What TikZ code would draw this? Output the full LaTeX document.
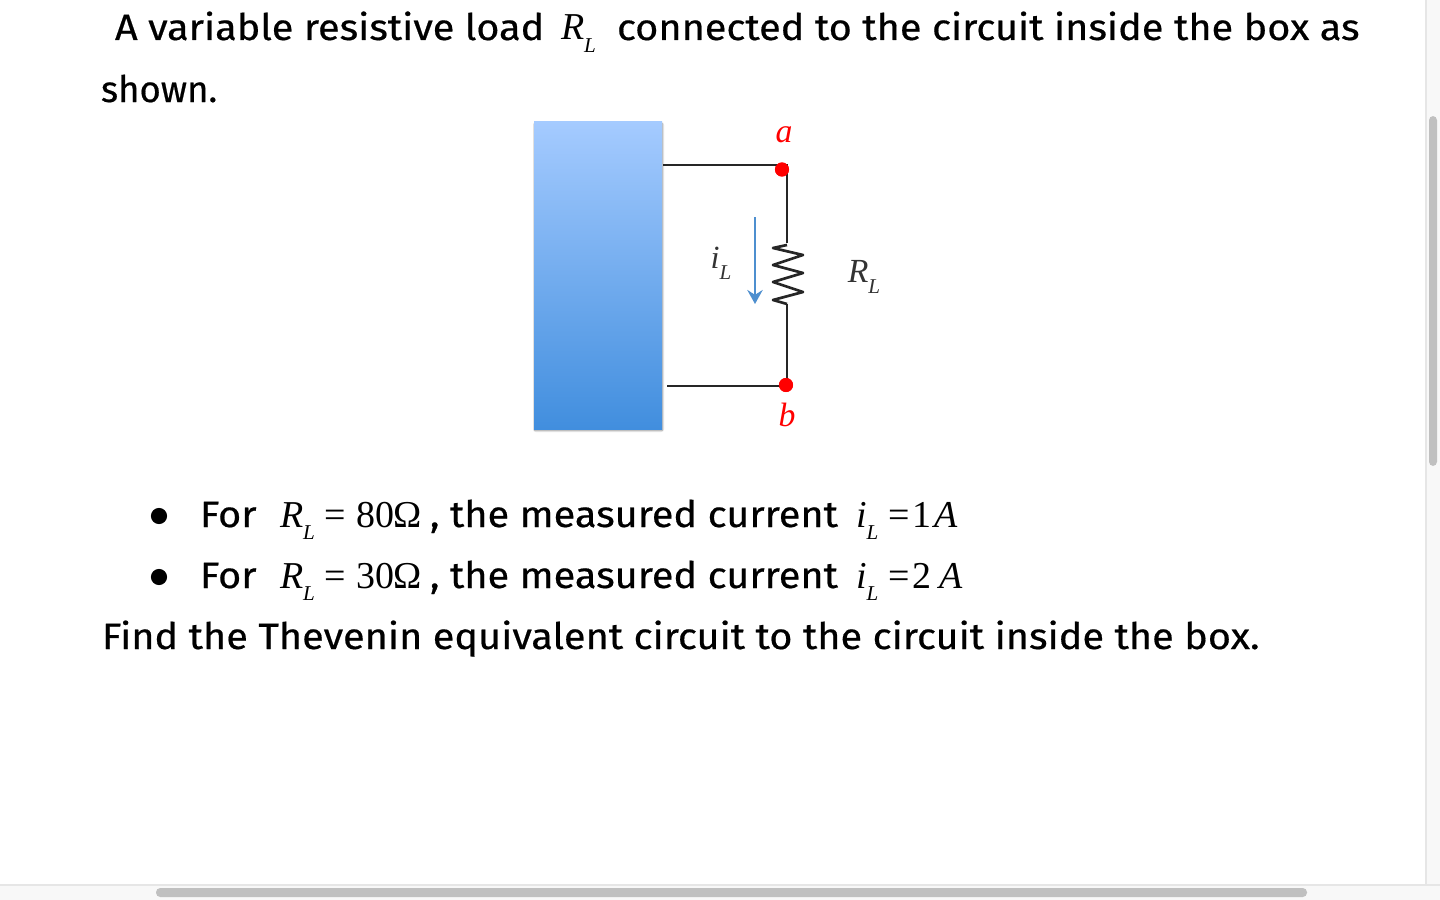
\documentclass[tikz,border=0pt]{standalone}
\usepackage{fontspec}
\setmainfont[FakeStretch=1.085,FakeBold=0.5]{Fira Sans}
\newfontfamily\plainfont[FakeBold=0.5]{Fira Sans}
\newfontfamily\mathserif{Liberation Serif}
\usetikzlibrary{arrows.meta}
\definecolor{boxtop}{HTML}{A5CBFF}
\definecolor{boxbot}{HTML}{418EDE}
\definecolor{arrowblue}{HTML}{4E8FCF}
\definecolor{thumbgray}{HTML}{C0C0C0}
\definecolor{trackgray}{HTML}{F8F8F8}
\definecolor{trackline}{HTML}{E6E6E6}
\newcommand{\subvar}[2]{\textit{#1}\raisebox{-0.33em}{\fontsize{15}{15}\selectfont\textit{#2}}}
\tikzset{
    txt/.style = {anchor=base west,inner sep=0pt,outer sep=0pt,font=\fontsize{26}{26}\selectfont},
    mth/.style = {anchor=base west,inner sep=0pt,outer sep=0pt,font=\mathserif\fontsize{27}{27}\selectfont},
    lbl/.style = {inner sep=0pt,outer sep=0pt,font=\mathserif\fontsize{24}{24}\selectfont\itshape},
    terminal/.style = {circle,fill=red,inner sep=0pt,minimum size=10},
    bullet/.style = {circle,fill=black,inner sep=0pt,minimum size=11.5},
    wire/.style = {line width=1.9pt,black!85},
    thumb/.style = {fill=thumbgray,rounded corners=3pt},
    track/.style = {fill=trackgray,draw=trackline,line width=0.8pt}
}
\begin{document}
\begin{tikzpicture}[x=0.025cm,y=-0.025cm]
  \useasboundingbox[fill=white] (0,0) rectangle (1440,900);

  % scroll bars
  \path[track] (1426,-2) rectangle (1442,885);
  \path[track] (-2,885) rectangle (1442,902);
  \path[thumb] (1429,116) rectangle (1437,466);
  \path[thumb] (156,888) rectangle (1307,897);

  % text
  \node[txt] (l1a) at (115,40) {A variable resistive load};
  \node[mth] (l1b) at (561,40) {\subvar{R}{L}};
  \node[txt] (l1c) at (617,40) {connected to the circuit inside the box as};
  \node[txt,font=\plainfont\fontsize{26}{26}\selectfont] (l2) at (101,102) {shown.};

  \node[bullet] (b1) at (159,516) {};
  \node[txt] (f1) at (200,527) {For};
  \node[mth] (r1) at (280,527) {\subvar{R}{L}\kern7pt=\kern7pt 80\textup{Ω}};
  \node[txt] (m1) at (430,527) {, the measured current};
  \node[mth] (i1) at (856,527) {\subvar{i}{L}\kern7pt=\kern2pt1\kern2pt\textit{A}};

  \node[bullet] (b2) at (159,577) {};
  \node[txt] (f2) at (200,588) {For};
  \node[mth] (r2) at (280,588) {\subvar{R}{L}\kern7pt=\kern7pt 30\textup{Ω}};
  \node[txt] (m2) at (430,588) {, the measured current};
  \node[mth] (i2) at (856,588) {\subvar{i}{L}\kern7pt=\kern2pt2\kern6pt\textit{A}};

  \node[txt] (l5) at (102,649) {Find the Thevenin equivalent circuit to the circuit inside the box.};

  % box
  \fill[black!12,rounded corners=2pt] (533,122) rectangle (664,432);
  \fill[black!25] (534,123) rectangle (663,430.5);
  \node[top color=boxtop,bottom color=boxbot,
        minimum width=128*0.025cm,minimum height=308*0.025cm,inner sep=0pt] (box) at (598,275) {};

  % circuit
  \coordinate (boxa) at (663,165);
  \coordinate (boxb) at (667,386);
  \coordinate (rtop) at (787,243);
  \coordinate (rbot) at (787,304);
  \coordinate (ita) at (755,217);
  \coordinate (itb) at (755,304);
  \node[terminal] (a) at (782,169.5) {};
  \node[terminal] (b) at (786,385) {};

  \draw[wire] (boxa) -- (787,165) -- (rtop);
  \draw[wire] (boxb) -- (boxb -| b);
  \draw[wire] (rbot) -- (787,385);
  \draw[wire,line join=round] (787,245) -- ++(-14,3) -- ++(30,7) -- ++(-30,10) -- ++(30,8) -- ++(-30,9)
    -- ++(30,10) -- ++(-30,8) -- (rbot);
  \draw[-{Stealth[length=10pt,width=11pt,inset=3.5pt]},arrowblue,line width=2.1pt] (ita) -- (itb);
  \node[terminal] at (a) {};
  \node[terminal] at (b) {};

  % labels
  \node[lbl,text=red] (la) at (784,135) {a};
  \node[lbl,text=red] (lb) at (787,415) {b};
  \node[lbl,font=\mathserif\fontsize{23}{23}\selectfont,black!80] (li) at (721,263) {\subvar{i}{L}};
  \node[lbl,font=\mathserif\fontsize{24}{24}\selectfont,black!80] (lr) at (864,277) {\subvar{R}{L}};
\end{tikzpicture}
\end{document}
